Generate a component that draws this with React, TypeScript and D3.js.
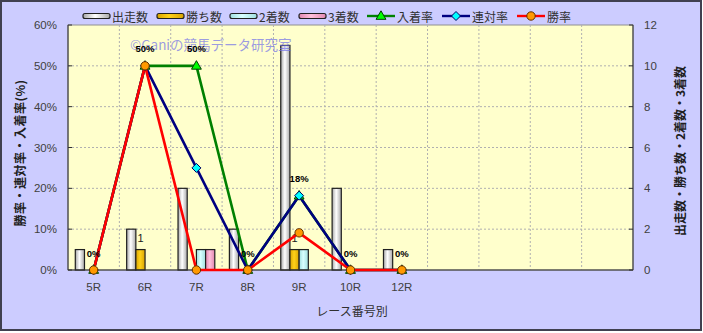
import React from "react";
import * as d3 from "d3";

const races = ["5R", "6R", "7R", "8R", "9R", "10R", "12R"];
const slotCount = 11;
const runs = [1, 2, 4, 2, 11, 4, 1];
const wins = [0, 1, 0, 0, 1, 0, 0];
const seconds = [0, 0, 1, 0, 1, 0, 0];
const thirds = [0, 0, 1, 0, 0, 0, 0];
const placeRate = [0, 50, 50, 0, 18.2, 0, 0];
const quinellaRate = [0, 50, 25, 0, 18.2, 0, 0];
const winRate = [0, 50, 0, 0, 9.1, 0, 0];
const leftTicks = [0, 10, 20, 30, 40, 50, 60];
const rightTicks = [0, 2, 4, 6, 8, 10, 12];

const W = 703, H = 333;
const PL = 68, PR = 633, PT = 25, PB = 270;
const JP = "'Noto Sans CJK JP', 'Noto Sans', sans-serif";
const NUM = "'Liberation Sans', Arial, sans-serif";

const barSeries = [
  { name: "出走数", values: runs, grad: "gRuns", c0: "#a8a8a8", c1: "#ffffff" },
  { name: "勝ち数", values: wins, grad: "gWins", c0: "#d9a400", c1: "#ffd21a" },
  { name: "2着数", values: seconds, grad: "gSec", c0: "#9fdede", c1: "#d8ffff" },
  { name: "3着数", values: thirds, grad: "gThi", c0: "#e088b0", c1: "#ffc0dc" },
];
const lineSeries = [
  { name: "入着率", values: placeRate, color: "#008000", fill: "#00ff00", marker: "tri" },
  { name: "連対率", values: quinellaRate, color: "#000080", fill: "#00ffff", marker: "dia" },
  { name: "勝率", values: winRate, color: "#ff0000", fill: "#ff9900", marker: "cir" },
];

function Marker({ kind, x, y, fill }: { kind: string; x: number; y: number; fill: string }) {
  if (kind === "tri") {
    const p = d3.symbol(d3.symbolTriangle, 42)();
    return <path d={p || ""} transform={`translate(${x},${y + 0.5})`} fill={fill} stroke="#004000" strokeWidth={1} />;
  }
  if (kind === "dia") {
    return <path d={`M${x},${y - 4.5}L${x + 4.5},${y}L${x},${y + 4.5}L${x - 4.5},${y}Z`} fill={fill} stroke="#000060" strokeWidth={1} />;
  }
  return <circle cx={x} cy={y} r={4.2} fill={fill} stroke="#603000" strokeWidth={1} />;
}

export default function App() {
  const slots = d3.range(slotCount);
  const x = d3.scaleBand<number>().domain(slots).range([PL, PR]).padding(0);
  const bw = x.bandwidth();
  const xs = d3.scaleBand<number>().domain([0, 1, 2, 3]).range([bw * 0.142, bw * 0.858]).padding(0);
  const yL = d3.scaleLinear().domain([0, 60]).range([PB, PT]);
  const yR = d3.scaleLinear().domain([0, 12]).range([PB, PT]);
  const cx = (i: number) => (x(i) as number) + bw / 2;

  const line = d3.line<number>().x((_, i) => cx(i)).y((v) => yL(v));

  const legendItems = [
    { kind: "bar", idx: 0, x: 83 },
    { kind: "bar", idx: 1, x: 157 },
    { kind: "bar", idx: 2, x: 230 },
    { kind: "bar", idx: 3, x: 299 },
    { kind: "line", idx: 0, x: 367 },
    { kind: "line", idx: 1, x: 442 },
    { kind: "line", idx: 2, x: 517 },
  ];

  return (
    <svg width={W} height={H} style={{ display: "block", position: "absolute", left: 0, top: 0 }}>
      <defs>
        {barSeries.map((b) => (
          <linearGradient key={b.grad} id={b.grad} x1="0" x2="1" y1="0" y2="0">
            <stop offset="0" stopColor={b.c0} />
            <stop offset="0.45" stopColor={b.c1} />
            <stop offset="1" stopColor={b.c0} />
          </linearGradient>
        ))}
      </defs>
      <rect x={0} y={0} width={W} height={H} fill="#ffffff" />
      <rect x={1} y={1} width={W - 3} height={H - 4} fill="#ccccff" stroke="#404050" strokeWidth={2} />
      <rect x={PL} y={PT} width={PR - PL} height={PB - PT} fill="#ffffcc" stroke="#909090" strokeWidth={1} />

      {/* grid */}
      {leftTicks.slice(1, -1).map((t) => (
        <line key={"h" + t} x1={PL} x2={PR} y1={yL(t)} y2={yL(t)} stroke="#b0b0b0" strokeDasharray="2,2" />
      ))}
      {slots.slice(1).map((i) => (
        <line key={"v" + i} x1={x(i)} x2={x(i)} y1={PT} y2={PB} stroke="#b0b0b0" strokeDasharray="2,2" />
      ))}

      {/* axes */}
      <line x1={PL} x2={PL} y1={PT} y2={PB} stroke="#303030" />
      <line x1={PR} x2={PR} y1={PT} y2={PB} stroke="#303030" />
      {leftTicks.map((t) => (
        <g key={"lt" + t}>
          <line x1={PL} x2={PL + 4} y1={yL(t)} y2={yL(t)} stroke="#303030" />
          <text x={57} y={yL(t)} textAnchor="end" dominantBaseline="central" fontFamily={NUM} fontSize={11.5} fill="#404040">{t}%</text>
        </g>
      ))}
      {rightTicks.map((t) => (
        <g key={"rt" + t}>
          <line x1={PR - 4} x2={PR} y1={yR(t)} y2={yR(t)} stroke="#303030" />
          <text x={644} y={yR(t)} textAnchor="start" dominantBaseline="central" fontFamily={NUM} fontSize={11.5} fill="#404040">{t}</text>
        </g>
      ))}
      {races.map((r, i) => (
        <text key={r} x={cx(i)} y={287} textAnchor="middle" dominantBaseline="central" fontFamily={NUM} fontSize={11.5} fill="#404040">{r}</text>
      ))}

      {/* bars */}
      {barSeries.map((b, si) =>
        b.values.map((v, i) =>
          v > 0 ? (
            <rect key={b.name + i} x={(x(i) as number) + (xs(si) as number)} y={yR(v)} width={xs.bandwidth()} height={PB - yR(v)}
              fill={`url(#${b.grad})`} stroke="#202020" strokeWidth={1.2} />
          ) : null
        )
      )}
      <line x1={PL} x2={PR} y1={PB} y2={PB} stroke="#303030" />
      {wins.map((v, i) =>
        v > 0 ? (
          <text key={"wl" + i} x={(x(i) as number) + (xs(1) as number) + xs.bandwidth() / 2} y={yR(v) - 12} textAnchor="middle"
            dominantBaseline="central" fontFamily={NUM} fontSize={11} fill="#202020">{v}</text>
        ) : null
      )}

      {/* watermark */}
      <text x={130} y={44} dominantBaseline="central" fontFamily={JP} fontSize={13.5} fill="#7070e8" fillOpacity={0.7}>©Ganiの競馬データ研究室</text>

      {/* lines */}
      {lineSeries.map((s) => (
        <path key={s.name} d={line(s.values) || ""} fill="none" stroke={s.color} strokeWidth={2.6} strokeLinejoin="round" />
      ))}
      {lineSeries.map((s) =>
        s.values.map((v, i) => <Marker key={s.name + i} kind={s.marker} x={cx(i)} y={yL(v)} fill={s.fill} />)
      )}
      {placeRate.map((v, i) => (
        <text key={"pl" + i} x={cx(i)} y={yL(v) - 17} textAnchor="middle" dominantBaseline="central" fontFamily={NUM}
          fontSize={9.5} fontWeight="bold" fill="#000">{Math.round(v)}%</text>
      ))}

      {/* axis titles */}
      <text transform={`translate(19,153) rotate(-90)`} textAnchor="middle" dominantBaseline="central" fontFamily={JP} fontSize={12} fontWeight="bold" fill="#202020" letterSpacing={0.5}>勝率・連対率・入着率(%)</text>
      <text transform={`translate(679,151) rotate(-90)`} textAnchor="middle" dominantBaseline="central" fontFamily={JP} fontSize={12} fontWeight="bold" fill="#202020">出走数・勝ち数・2着数・3着数</text>
      <text x={352} y={310} textAnchor="middle" dominantBaseline="central" fontFamily={JP} fontSize={12} fill="#303030">レース番号別</text>

      {/* legend */}
      {legendItems.map((it) => {
        if (it.kind === "bar") {
          const b = barSeries[it.idx];
          return (
            <g key={b.name}>
              <rect x={it.x} y={13.5} width={27} height={5} rx={2} fill={`url(#${b.grad})`} stroke="#202020" strokeWidth={1.2} />
              <text x={it.x + 29} y={16} dominantBaseline="central" fontFamily={JP} fontSize={12} fill="#303030">{b.name}</text>
            </g>
          );
        }
        const s = lineSeries[it.idx];
        return (
          <g key={s.name}>
            <line x1={it.x} x2={it.x + 28} y1={16} y2={16} stroke={s.color} strokeWidth={2.4} />
            <Marker kind={s.marker} x={it.x + 14} y={16} fill={s.fill} />
            <text x={it.x + 30} y={16} dominantBaseline="central" fontFamily={JP} fontSize={12} fill="#303030">{s.name}</text>
          </g>
        );
      })}
    </svg>
  );
}
